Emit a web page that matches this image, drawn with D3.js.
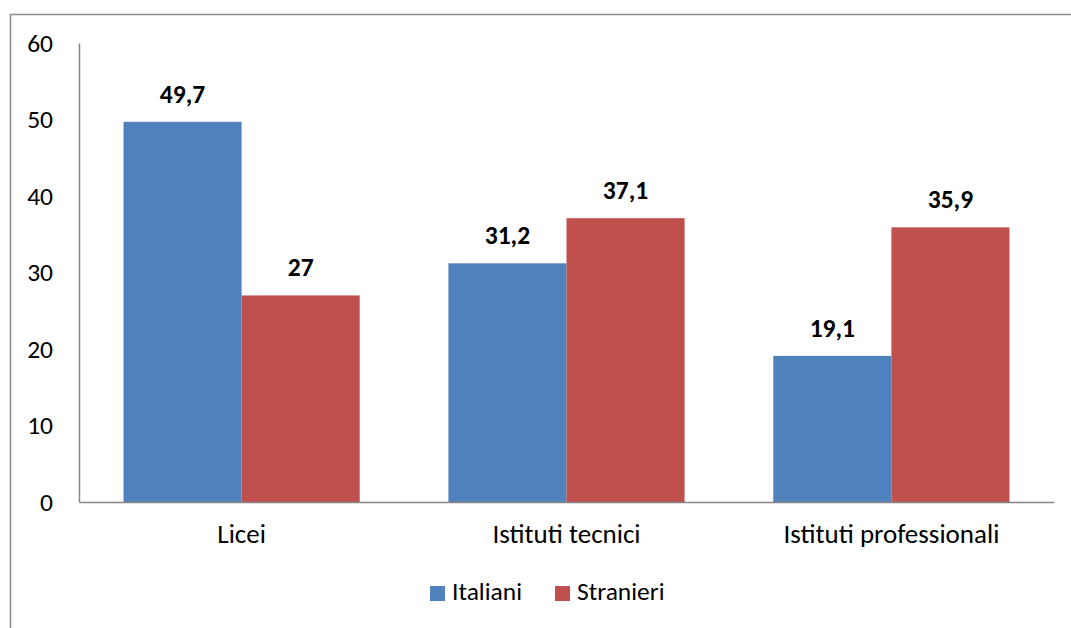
<!DOCTYPE html>
<html>
<head>
<meta charset="utf-8">
<script src="https://cdn.jsdelivr.net/npm/d3@7"></script>
<style>
  html, body { margin: 0; padding: 0; background: #fff; }
  svg { display: block; font-family: Carlito, Calibri, Lato, "Open Sans", sans-serif; }
</style>
</head>
<body>
<svg id="chart" width="1071" height="628"></svg>
<script>
const categories = ["Licei", "Istituti tecnici", "Istituti professionali"];
const seriesNames = ["Italiani", "Stranieri"];
const italiani = [49.7, 31.2, 19.1];
const stranieri = [27, 37.1, 35.9];
const yTicks = [0, 10, 20, 30, 40, 50, 60];
const colors = ["#4f81bd", "#c0504d"];

const fontSize = 25.5;
const svg = d3.select("#chart");

// outer frame of the chart area
svg.append("rect")
  .attr("x", 10.5).attr("y", 14.5)
  .attr("width", 1100).attr("height", 700)
  .attr("fill", "none").attr("stroke", "#8c8c8c").attr("stroke-width", 1.5);

const plot = { left: 79, right: 1054, top: 43, bottom: 502 };

const x = d3.scaleBand().domain(categories).range([plot.left, plot.right]).paddingInner(0.273).paddingOuter(0.137);
const xs = d3.scaleBand().domain(seriesNames).range([0, x.bandwidth()]);
const y = d3.scaleLinear().domain([0, 60]).range([plot.bottom, plot.top]);

const data = categories.map((c, i) => ({ cat: c, values: [italiani[i], stranieri[i]] }));

const groups = svg.append("g").selectAll("g").data(data).join("g")
  .attr("transform", d => `translate(${x(d.cat)},0)`);

groups.selectAll("rect").data(d => d.values.map((v, k) => ({ v, k })))
  .join("rect")
  .attr("x", d => xs(seriesNames[d.k]))
  .attr("width", xs.bandwidth())
  .attr("y", d => y(d.v))
  .attr("height", d => y(0) - y(d.v))
  .attr("fill", d => colors[d.k]);

groups.selectAll("text.val").data(d => d.values.map((v, k) => ({ v, k })))
  .join("text")
  .attr("class", "val")
  .attr("x", d => xs(seriesNames[d.k]) + xs.bandwidth() / 2)
  .attr("y", d => y(d.v) - 19)
  .attr("text-anchor", "middle")
  .attr("font-size", fontSize).attr("font-weight", "bold").attr("fill", "#000")
  .text(d => String(d.v).replace(".", ","));

// y axis
const yAxis = svg.append("g").attr("transform", `translate(${plot.left},0)`)
  .call(d3.axisLeft(y).tickValues(yTicks).tickSize(0).tickPadding(26))
  .attr("font-family", "inherit").attr("font-size", fontSize);
yAxis.select(".domain").attr("stroke", "#868686").attr("stroke-width", 1.5);
yAxis.selectAll("text").attr("fill", "#000");

// x axis
const xAxis = svg.append("g").attr("transform", `translate(0,${plot.bottom})`)
  .call(d3.axisBottom(x).tickSize(0).tickPadding(22))
  .attr("font-family", "inherit").attr("font-size", 27);
xAxis.select(".domain").attr("stroke", "#868686").attr("stroke-width", 1.5);
xAxis.selectAll("text").attr("fill", "#000");

// legend
const legendX = [430, 555];
const legend = svg.append("g").selectAll("g").data(seriesNames).join("g")
  .attr("transform", (d, i) => `translate(${legendX[i]},586)`);
legend.append("rect").attr("width", 15).attr("height", 15).attr("fill", (d, i) => colors[i]);
legend.append("text").attr("x", 22).attr("y", 14)
  .attr("font-size", fontSize).attr("fill", "#000").text(d => d);
</script>
</body>
</html>
